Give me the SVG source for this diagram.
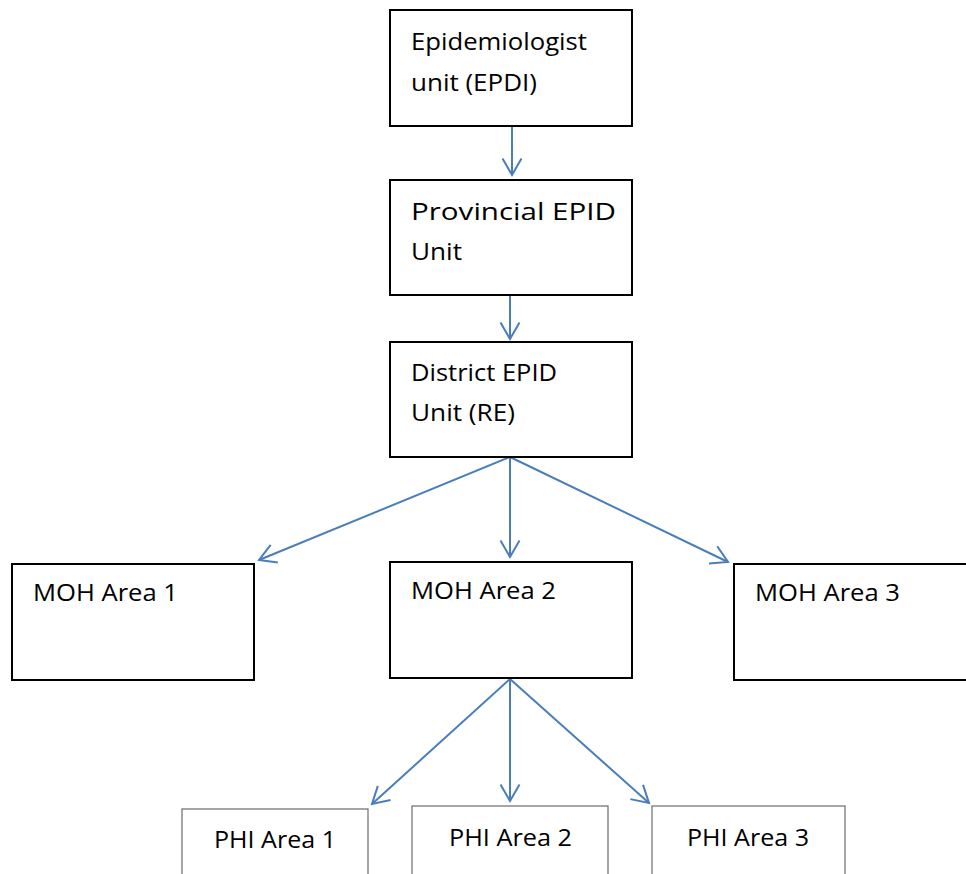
<svg xmlns="http://www.w3.org/2000/svg" width="966" height="874" viewBox="0 0 966 874">
  <style>
    .box { fill: #ffffff; stroke: #000000; stroke-width: 2; }
    .leaf { fill: #ffffff; stroke: #6b6b6b; stroke-width: 1.2; }
    .lbl { font-family: "Open Sans", "Liberation Sans", sans-serif; font-size: 23px; fill: #000000; }
    .edge { stroke: #4a7ebb; stroke-width: 2; fill: none; }
  </style>
  <defs>
    <marker id="vhead" markerUnits="userSpaceOnUse" markerWidth="24" markerHeight="24" viewBox="-20 -12 22 24" refX="0" refY="0" orient="auto">
      <path d="M -16.5 -9.5 L 0 0 L -16.5 9.5" fill="none" stroke="#4a7ebb" stroke-width="2"/>
    </marker>
  </defs>

  <rect width="966" height="874" fill="#ffffff"/>

  <g id="connectors">
    <line class="edge" x1="512" y1="126" x2="512" y2="175" marker-end="url(#vhead)"/>
    <line class="edge" x1="510" y1="296" x2="510" y2="339" marker-end="url(#vhead)"/>
    <line class="edge" x1="510" y1="457" x2="259" y2="560" marker-end="url(#vhead)"/>
    <line class="edge" x1="510" y1="457" x2="510" y2="557" marker-end="url(#vhead)"/>
    <line class="edge" x1="510" y1="457" x2="728" y2="562" marker-end="url(#vhead)"/>
    <line class="edge" x1="510" y1="679" x2="372" y2="804" marker-end="url(#vhead)"/>
    <line class="edge" x1="510" y1="679" x2="510" y2="801" marker-end="url(#vhead)"/>
    <line class="edge" x1="510" y1="679" x2="649" y2="803" marker-end="url(#vhead)"/>
  </g>

  <g id="epdi">
    <rect class="box" x="390" y="10" width="242" height="116"/>
    <text class="lbl" x="411" y="50" textLength="176" lengthAdjust="spacingAndGlyphs">Epidemiologist</text>
    <text class="lbl" x="411" y="91" textLength="126" lengthAdjust="spacingAndGlyphs">unit (EPDI)</text>
  </g>

  <g id="provincial">
    <rect class="box" x="390" y="180" width="242" height="115"/>
    <text class="lbl" x="411" y="220" textLength="205" lengthAdjust="spacingAndGlyphs">Provincial EPID</text>
    <text class="lbl" x="411" y="260" textLength="51" lengthAdjust="spacingAndGlyphs">Unit</text>
  </g>

  <g id="district">
    <rect class="box" x="390" y="342" width="242" height="115"/>
    <text class="lbl" x="411" y="381" textLength="146" lengthAdjust="spacingAndGlyphs">District EPID</text>
    <text class="lbl" x="411" y="421" textLength="104" lengthAdjust="spacingAndGlyphs">Unit (RE)</text>
  </g>

  <g id="moh1">
    <rect class="box" x="12" y="564" width="242" height="116"/>
    <text class="lbl" x="33" y="601" textLength="145" lengthAdjust="spacingAndGlyphs">MOH Area 1</text>
  </g>

  <g id="moh2">
    <rect class="box" x="390" y="562" width="242" height="116"/>
    <text class="lbl" x="411" y="599" textLength="145" lengthAdjust="spacingAndGlyphs">MOH Area 2</text>
  </g>

  <g id="moh3">
    <rect class="box" x="734" y="564" width="240" height="116"/>
    <text class="lbl" x="755" y="601" textLength="145" lengthAdjust="spacingAndGlyphs">MOH Area 3</text>
  </g>

  <g id="phi1">
    <rect class="leaf" x="182" y="809" width="186" height="80"/>
    <text class="lbl" x="214" y="848" textLength="122" lengthAdjust="spacingAndGlyphs">PHI Area 1</text>
  </g>

  <g id="phi2">
    <rect class="leaf" x="412" y="806" width="196" height="80"/>
    <text class="lbl" x="449" y="846" textLength="123" lengthAdjust="spacingAndGlyphs">PHI Area 2</text>
  </g>

  <g id="phi3">
    <rect class="leaf" x="652" y="806" width="193" height="80"/>
    <text class="lbl" x="687" y="846" textLength="122" lengthAdjust="spacingAndGlyphs">PHI Area 3</text>
  </g>
</svg>
